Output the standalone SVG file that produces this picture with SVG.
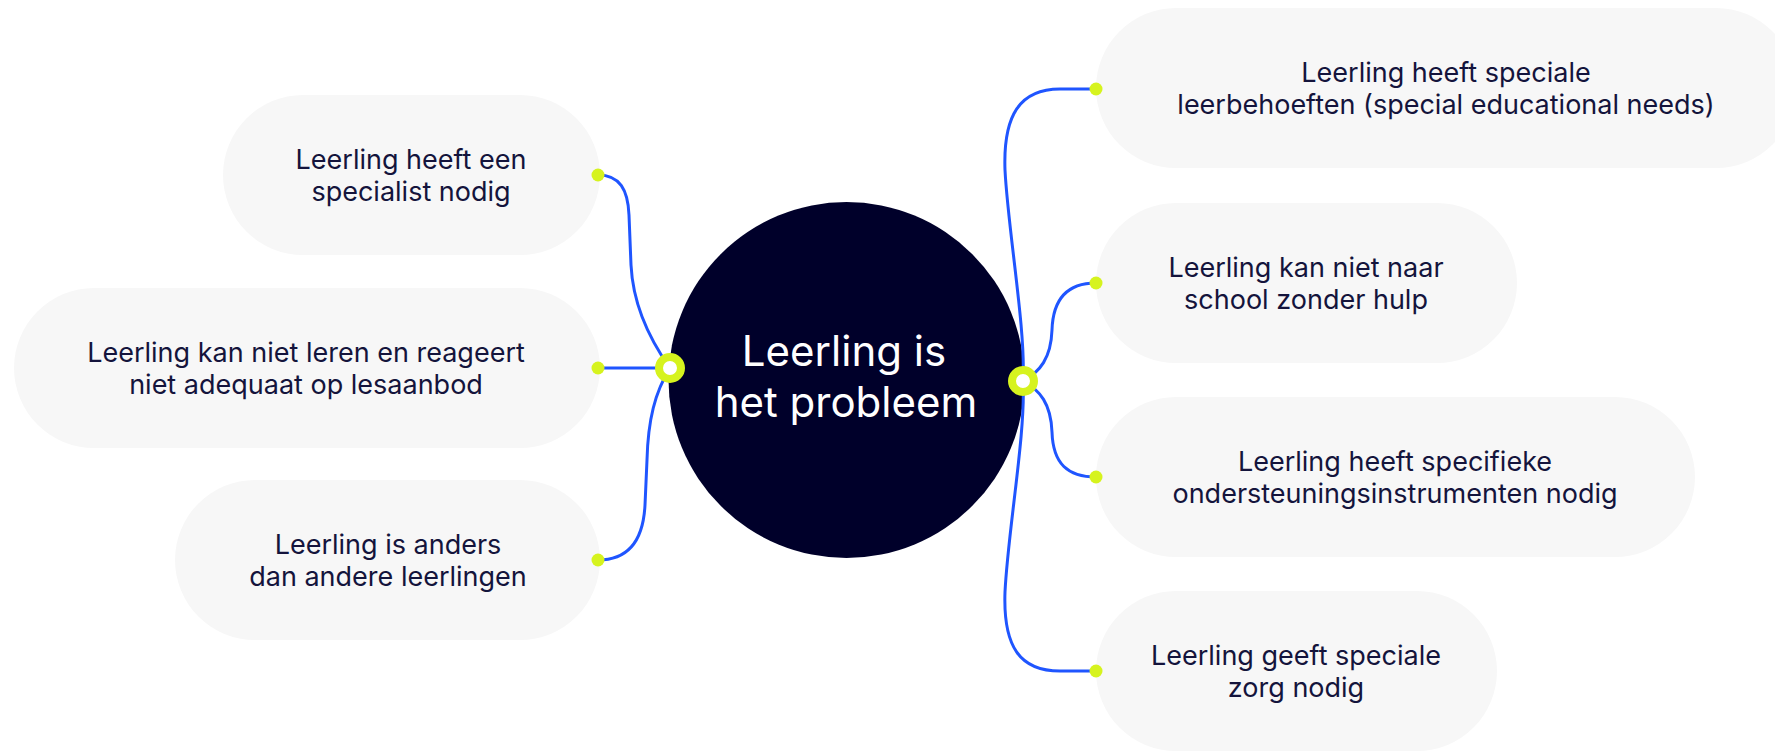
<svg xmlns="http://www.w3.org/2000/svg" width="1775" height="752" viewBox="0 0 1775 752">
<style>
.pill{fill:#f7f7f7}
.t{font-family:Inter,"Liberation Sans",sans-serif;font-size:27px;fill:#14143c;text-anchor:middle}
.ct{font-family:Inter,"Liberation Sans",sans-serif;font-size:42px;fill:#ffffff;text-anchor:middle}
.ln{fill:none;stroke:#1f55ff;stroke-width:3;stroke-linecap:round}
.dot{fill:#d6f31e}
.ring{fill:#ffffff;stroke:#d6f31e;stroke-width:8}
</style>
<rect width="1775" height="752" fill="#ffffff"/>
<g id="n1"><rect class="pill" x="223" y="95" width="377" height="160" rx="80"/>
<text class="t" x="411" y="169">Leerling heeft een</text><text class="t" x="411" y="201">specialist nodig</text></g>
<g id="n2"><rect class="pill" x="14" y="288" width="586" height="160" rx="80"/>
<text class="t" x="306" y="362">Leerling kan niet leren en reageert</text><text class="t" x="306" y="394">niet adequaat op lesaanbod</text></g>
<g id="n3"><rect class="pill" x="175" y="480" width="425" height="160" rx="80"/>
<text class="t" x="388" y="554">Leerling is anders</text><text class="t" x="388" y="586">dan andere leerlingen</text></g>
<g id="r1"><rect class="pill" x="1096" y="8" width="700" height="160" rx="80"/>
<text class="t" x="1446" y="82">Leerling heeft speciale</text><text class="t" x="1446" y="114">leerbehoeften (special educational needs)</text></g>
<g id="r2"><rect class="pill" x="1096" y="203" width="421" height="160" rx="80"/>
<text class="t" x="1306" y="277">Leerling kan niet naar</text><text class="t" x="1306" y="309">school zonder hulp</text></g>
<g id="r3"><rect class="pill" x="1096" y="397" width="599" height="160" rx="80"/>
<text class="t" x="1395" y="471">Leerling heeft specifieke</text><text class="t" x="1395" y="503">ondersteuningsinstrumenten nodig</text></g>
<g id="r4"><rect class="pill" x="1096" y="591" width="401" height="160" rx="80"/>
<text class="t" x="1296" y="665">Leerling geeft speciale</text><text class="t" x="1296" y="697">zorg nodig</text></g>
<g id="center"><circle cx="846.5" cy="380" r="178" fill="#00002a"/>
<text class="ct" x="844" y="366">Leerling is</text><text class="ct" x="846" y="417">het probleem</text></g>
<g id="connectors">
<path class="ln" d="M598,175 C620,175 628,190 629,215 L631,265 C633,305 650,340 670,368"/>
<path class="ln" d="M598,368 L670,368"/>
<path class="ln" d="M670,368 C655,392 648,420 647,460 L645,505 C643,545 625,560 598,560"/>
<path class="ln" d="M1023,381 C1026,330 1008,230 1005,170 C1003,115 1020,89 1060,89 L1096,89"/>
<path class="ln" d="M1023,381 C1040,372 1051,358 1052,330 C1053,298 1068,283 1096,283"/>
<path class="ln" d="M1023,381 C1040,390 1051,404 1052,432 C1053,464 1068,477 1096,477"/>
<path class="ln" d="M1023,381 C1026,432 1008,530 1005,592 C1003,647 1020,671 1060,671 L1096,671"/>
<circle class="dot" cx="598" cy="175" r="6.5"/>
<circle class="dot" cx="598" cy="368" r="6.5"/>
<circle class="dot" cx="598" cy="560" r="6.5"/>
<circle class="dot" cx="1096" cy="89" r="6.5"/>
<circle class="dot" cx="1096" cy="283" r="6.5"/>
<circle class="dot" cx="1096" cy="477" r="6.5"/>
<circle class="dot" cx="1096" cy="671" r="6.5"/>
<circle class="ring" cx="670" cy="368" r="11"/>
<circle class="ring" cx="1023" cy="381" r="11"/>
</g>
</svg>
